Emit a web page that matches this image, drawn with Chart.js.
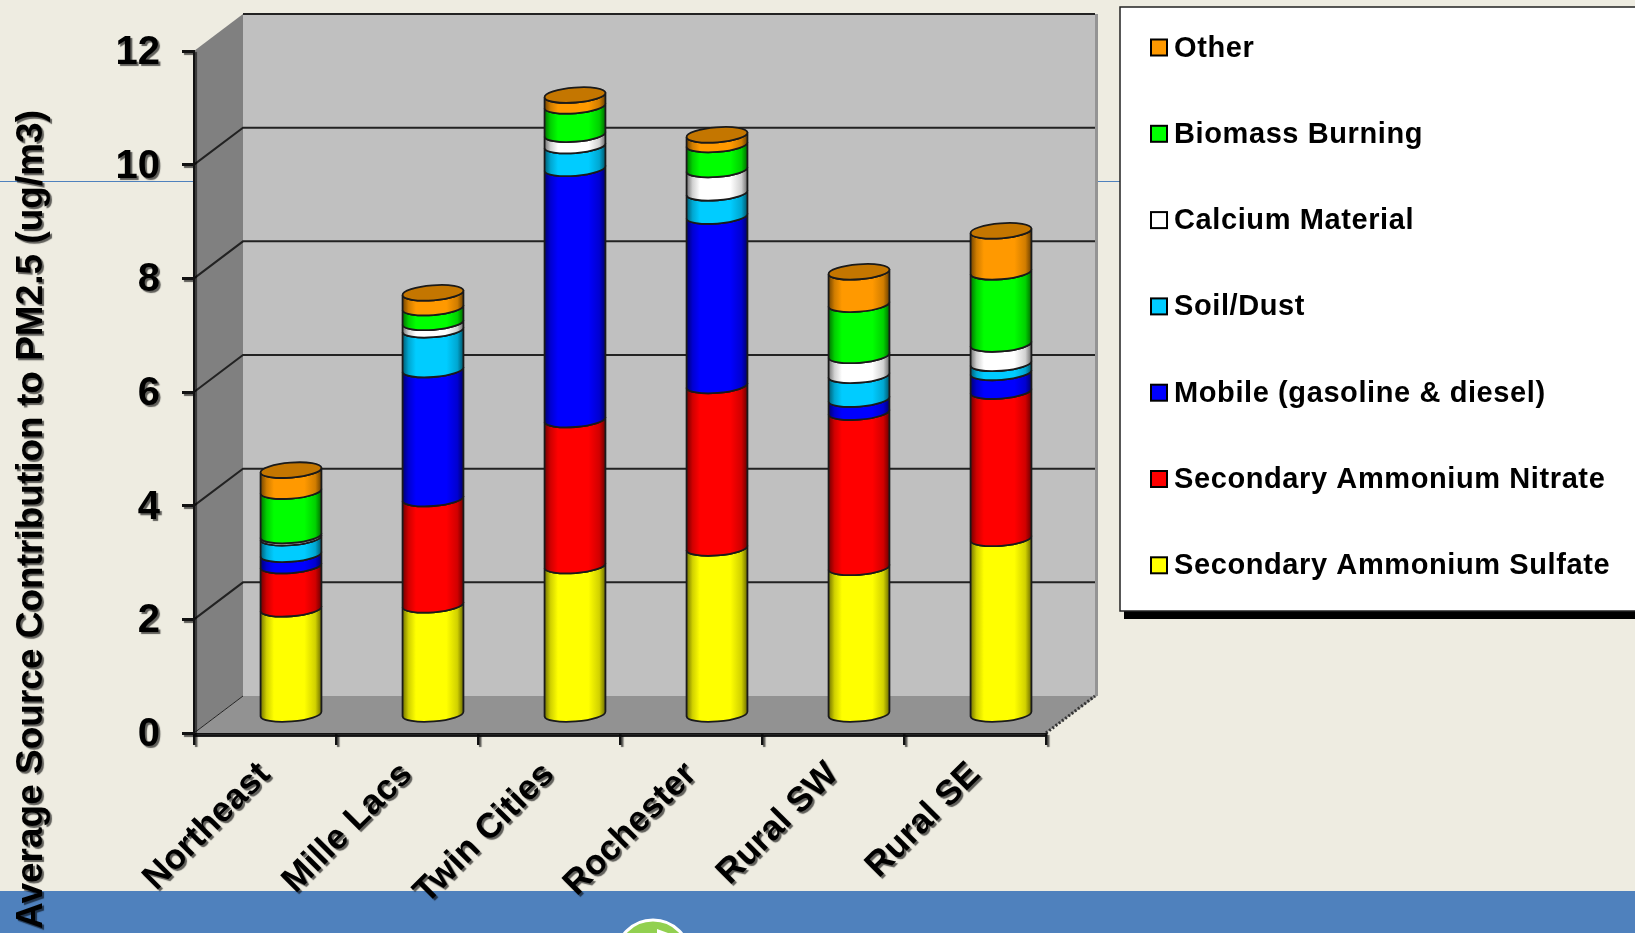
<!DOCTYPE html>
<html>
<head>
<meta charset="utf-8">
<title>PM2.5 source contribution</title>
<script src="https://cdn.jsdelivr.net/npm/chart.js@4"></script>
<style>
  html, body { margin: 0; padding: 0; background: #eeece1; overflow: hidden; }
  #wrap { position: relative; width: 1635px; height: 933px; }
</style>
</head>
<body>
<div id="wrap"><canvas id="canvasGrafico"></canvas></div>
<script>
const regioes = ['Northeast', 'Mille Lacs', 'Twin Cities', 'Rochester', 'Rural SW', 'Rural SE'];

const sulfate = [1.86, 1.93, 2.62, 2.93, 2.59, 3.10];
const nitrate = [0.76, 1.87, 2.57, 2.86, 2.73, 2.59];
const mobile  = [0.20, 2.27, 4.42, 2.98, 0.23, 0.33];
const soil    = [0.29, 0.70, 0.40, 0.41, 0.42, 0.16];
const calcium = [0.04, 0.13, 0.20, 0.41, 0.35, 0.34];
const biomass = [0.78, 0.26, 0.50, 0.44, 0.90, 1.27];
const other   = [0.37, 0.26, 0.19, 0.17, 0.57, 0.72];

const yTicks = [0, 2, 4, 6, 8, 10, 12];
const yTitle = 'Average Source Contribution to PM2.5 (ug/m3)';

const FONT = '"Liberation Sans", Arial, sans-serif';
// how far the back wall sits behind the axes, and where the bars stand inside the box
const DEPTH_X = 49, DEPTH_Y = 37;
const BAR_DX = 26, BAR_DY = 18.5;
const TILT = 4.5 * Math.PI / 180;
const CAP_H = 7.5;

function scaleColor(hex, f) {
  const n = parseInt(hex.slice(1), 16);
  const r = Math.round((n >> 16 & 255) * f);
  const g = Math.round((n >> 8 & 255) * f);
  const b = Math.round((n & 255) * f);
  return 'rgb(' + r + ',' + g + ',' + b + ')';
}

function drawSlideBackground(ctx) {
  // blue footer band with the round button poking up from below
  ctx.fillStyle = '#4f81bd';
  ctx.fillRect(0, 891, 1635, 42);
  ctx.beginPath();
  ctx.arc(653, 957, 37, 0, Math.PI * 2);
  ctx.fillStyle = '#92d050';
  ctx.fill();
  ctx.lineWidth = 3;
  ctx.strokeStyle = '#ffffff';
  ctx.stroke();
  ctx.beginPath();
  ctx.moveTo(657, 929);
  ctx.lineTo(690, 941);
  ctx.lineTo(657, 953);
  ctx.closePath();
  ctx.fillStyle = '#ffffff';
  ctx.fill();
  // thin rule across the slide
  ctx.fillStyle = '#4f81bd';
  ctx.fillRect(0, 181, 1120, 1);
}

function drawBox3d(ctx, chart) {
  const a = chart.chartArea;
  const ys = chart.scales.y;
  const top = a.top, bot = a.bottom, l = a.left, r = a.right;
  const dx = DEPTH_X, dy = DEPTH_Y;

  ctx.fillStyle = '#c0c0c0';
  ctx.fillRect(l + dx, top - dy, r - l + 2, bot - top);

  ctx.fillStyle = '#808080';
  ctx.beginPath();
  ctx.moveTo(l, top);
  ctx.lineTo(l + dx, top - dy);
  ctx.lineTo(l + dx, bot - dy);
  ctx.lineTo(l, bot);
  ctx.closePath();
  ctx.fill();

  ctx.fillStyle = '#929292';
  ctx.beginPath();
  ctx.moveTo(l, bot);
  ctx.lineTo(l + dx, bot - dy);
  ctx.lineTo(r + dx + 2, bot - dy);
  ctx.lineTo(r, bot);
  ctx.closePath();
  ctx.fill();

  // right edge of the back wall
  ctx.fillStyle = '#949494';
  ctx.fillRect(r + dx, top - dy, 3, bot - top);

  ctx.strokeStyle = '#222222';
  ys.ticks.forEach(function (t) {
    const y = ys.getPixelForValue(t.value);
    ctx.beginPath();
    if (t.value === ys.max) {
      ctx.moveTo(l + dx, y - dy);
    } else {
      ctx.moveTo(l, y);
      ctx.lineTo(l + dx, y - dy);
    }
    if (t.value !== ys.min) {
      ctx.lineTo(r + dx, y - dy);
    }
    ctx.lineWidth = t.value === ys.min ? 1 : 2;
    ctx.stroke();
  });

  // thick front edge of the floor and its hatched right side
  ctx.fillStyle = '#262626';
  ctx.fillRect(l, bot, r - l, 4);
  ctx.strokeStyle = '#333333';
  ctx.lineWidth = 3;
  ctx.setLineDash([2, 2]);
  ctx.beginPath();
  ctx.moveTo(r, bot);
  ctx.lineTo(r + dx, bot - dy);
  ctx.stroke();
  ctx.setLineDash([]);
}

function setTextShadow(ctx) {
  ctx.shadowColor = 'rgba(0,0,0,0.6)';
  ctx.shadowOffsetX = 2;
  ctx.shadowOffsetY = 2;
  ctx.shadowBlur = 1;
}

function clearTextShadow(ctx) {
  ctx.shadowColor = 'transparent';
  ctx.shadowOffsetX = 0;
  ctx.shadowOffsetY = 0;
  ctx.shadowBlur = 0;
}

function drawYTitle(ctx) {
  ctx.save();
  ctx.translate(42, 110);
  ctx.rotate(-Math.PI / 2);
  ctx.font = 'bold 37px ' + FONT;
  ctx.textAlign = 'right';
  ctx.textBaseline = 'alphabetic';
  ctx.fillStyle = '#000000';
  setTextShadow(ctx);
  ctx.fillText(yTitle, 0, 0);
  ctx.restore();
}

function drawLegend(ctx, chart) {
  const boxLeft = 1120, boxTop = 7, boxBottom = 611;
  ctx.fillStyle = '#000000';
  ctx.fillRect(boxLeft + 4, boxTop + 8, 1635, boxBottom - boxTop);
  ctx.fillStyle = '#ffffff';
  ctx.fillRect(boxLeft, boxTop, 1635, boxBottom - boxTop);
  ctx.strokeStyle = '#222222';
  ctx.lineWidth = 1.5;
  ctx.strokeRect(boxLeft, boxTop, 1635, boxBottom - boxTop);

  ctx.save();
  ctx.font = 'bold 29px ' + FONT;
  ctx.letterSpacing = '0.6px';
  ctx.textAlign = 'left';
  ctx.textBaseline = 'middle';
  const sets = chart.data.datasets;
  for (let i = sets.length - 1, row = 0; i >= 0; i--, row++) {
    const cy = 47.5 + row * 86.3;
    ctx.fillStyle = sets[i].backgroundColor;
    ctx.fillRect(1151, cy - 8, 16, 16);
    ctx.strokeStyle = '#000000';
    ctx.lineWidth = 2;
    ctx.strokeRect(1151, cy - 8, 16, 16);
    ctx.fillStyle = '#000000';
    ctx.fillText(sets[i].label, 1174, cy + 1);
  }
  ctx.restore();
}

// one stacked bar segment as a slice of a tilted cylinder, placed mid way into the box
function drawSlice(ctx, el, color, isTop) {
  const half = el.width / 2;
  const cx = el.x + BAR_DX;
  const yTop = el.y - BAR_DY;
  const yBot = el.base - BAR_DY;
  const ex = half * Math.cos(TILT);
  const ey = half * Math.sin(TILT);

  const g = ctx.createLinearGradient(cx - ex, 0, cx + ex, 0);
  g.addColorStop(0, scaleColor(color, 0.45));
  g.addColorStop(0.1, scaleColor(color, 0.82));
  g.addColorStop(0.22, color);
  g.addColorStop(0.72, color);
  g.addColorStop(0.9, scaleColor(color, 0.82));
  g.addColorStop(1, scaleColor(color, 0.42));

  ctx.beginPath();
  ctx.moveTo(cx + ex, yTop - ey);
  ctx.ellipse(cx, yTop, half, CAP_H, -TILT, 0, Math.PI);
  ctx.lineTo(cx - ex, yBot + ey);
  ctx.ellipse(cx, yBot, half, CAP_H, -TILT, Math.PI, 0, true);
  ctx.closePath();
  ctx.fillStyle = g;
  ctx.fill();
  ctx.strokeStyle = '#1a1a1a';
  ctx.lineWidth = 1.8;
  ctx.stroke();

  if (isTop) {
    ctx.beginPath();
    ctx.ellipse(cx, yTop, half, CAP_H, -TILT, 0, Math.PI * 2);
    ctx.fillStyle = scaleColor(color, 0.77);
    ctx.fill();
    ctx.stroke();
  }
}

const desenho3d = {
  id: 'desenho3d',
  beforeDraw(chart) {
    const ctx = chart.ctx;
    drawSlideBackground(ctx);
    drawBox3d(ctx, chart);
    drawYTitle(ctx);
    drawLegend(ctx, chart);
    // soft drop shadow under the tick labels, cleared again before the bars
    setTextShadow(ctx);
  },
  beforeDatasetsDraw(chart) {
    const ctx = chart.ctx;
    clearTextShadow(ctx);
    const sets = chart.data.datasets;
    sets.forEach(function (ds, i) {
      chart.getDatasetMeta(i).data.forEach(function (el) {
        drawSlice(ctx, el, ds.backgroundColor, i === sets.length - 1);
      });
    });
  },
  // the cylinders replace the flat bars
  beforeDatasetDraw() {
    return false;
  }
};

const data = {
  labels: regioes,
  datasets: [
    { label: 'Secondary Ammonium Sulfate', data: sulfate, backgroundColor: '#ffff00' },
    { label: 'Secondary Ammonium Nitrate', data: nitrate, backgroundColor: '#ff0000' },
    { label: 'Mobile (gasoline & diesel)', data: mobile, backgroundColor: '#0000ff' },
    { label: 'Soil/Dust', data: soil, backgroundColor: '#00ccff' },
    { label: 'Calcium Material', data: calcium, backgroundColor: '#ffffff' },
    { label: 'Biomass Burning', data: biomass, backgroundColor: '#00ff00' },
    { label: 'Other', data: other, backgroundColor: '#ff9900' }
  ]
};

const config = {
  type: 'bar',
  data: data,
  plugins: [desenho3d],
  options: {
    responsive: true,
    maintainAspectRatio: false,
    animation: false,
    events: [],
    layout: { padding: { left: 0, right: 589, top: 51, bottom: 0 } },
    datasets: { bar: { barPercentage: 0.43, categoryPercentage: 1 } },
    plugins: { legend: { display: false }, tooltip: { enabled: false } },
    scales: {
      x: {
        stacked: true,
        afterFit(s) { s.height = 200; },
        border: { color: '#111111', width: 1 },
        grid: { drawOnChartArea: false, color: '#111111', tickColor: '#111111', tickLength: 12, lineWidth: 2.5 },
        ticks: {
          color: '#000000',
          font: { family: FONT, size: 35, weight: 'bold' },
          minRotation: 45,
          maxRotation: 45,
          autoSkip: false,
          padding: 9
        }
      },
      y: {
        stacked: true,
        min: 0,
        max: 12,
        afterFit(s) { s.width = 194; },
        afterBuildTicks(s) { s.ticks = yTicks.map(function (v) { return { value: v }; }); },
        border: { color: '#111111', width: 2 },
        grid: { drawOnChartArea: false, tickColor: '#111111', tickLength: 12, tickWidth: 3 },
        ticks: {
          color: '#000000',
          font: { family: FONT, size: 40, weight: 'bold' },
          padding: 22,
          labelOffset: 2
        }
      }
    }
  }
};

const graficoDash = new Chart(document.getElementById('canvasGrafico'), config);
</script>
</body>
</html>
